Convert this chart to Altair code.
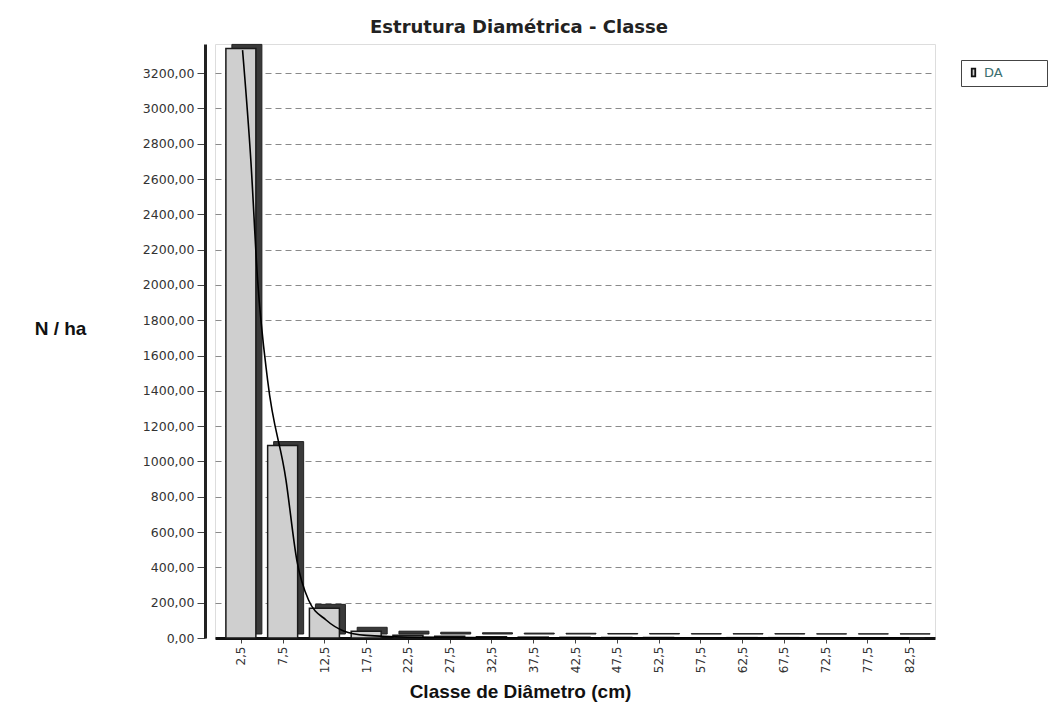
import altair as alt
import pandas as pd

# Diameter classes (cm) and stems per hectare (N/ha)
classes = [2.5, 7.5, 12.5, 17.5, 22.5, 27.5, 32.5, 37.5, 42.5, 47.5,
           52.5, 57.5, 62.5, 67.5, 72.5, 77.5, 82.5]
n_ha = [3340, 1090, 168, 38, 16, 10, 7, 5, 4, 3, 3, 2, 2, 2, 1, 1, 1]

# Fitted curve
curve_d = [2.7, 3.7, 4.5, 5.7, 7.9, 9.2, 10.6, 12.7, 14.8, 17.5, 22.5, 30.0, 45.0, 82.5]
curve_v = [3330, 2700, 2030, 1460, 895, 440, 215, 102, 40, 15, 5, 2, 1, 0.5]

y_ticks = list(range(0, 3201, 200))

bars = pd.DataFrame({"d": classes, "n": n_ha, "serie": ["DA"] * len(classes)})
curve = pd.DataFrame({"d": curve_d, "v": curve_v})

font = "Liberation Sans"
tfont = "DejaVu Sans"

xscale = alt.Scale(domain=[0, 85], nice=False, zero=False)
yscale = alt.Scale(domain=[0, 3365], nice=False)

x_axis = alt.Axis(
    values=classes,
    labelExpr="replace(format(datum.value, '.1f'), '.', ',')",
    labelAngle=270, labelAlign="right", labelBaseline="middle",
    labelFontSize=12, labelColor="#333", labelFont=tfont, labelPadding=3,
    labelOverlap=False,
    tickSize=5, tickColor="#444", grid=False,
    domainColor="#111", domainWidth=3,
    title="Classe de Diâmetro (cm)", titleFontSize=19, titleFont=font,
    titleFontWeight="bold", titleColor="#111",
    titleX=305, titleY=53, titleAnchor="middle", titleAlign="center",
    titleBaseline="middle",
)

y_axis = alt.Axis(
    values=y_ticks,
    labelExpr="replace(format(datum.value, '.2f'), '.', ',')",
    labelFontSize=12.5, labelColor="#333", labelFont=tfont, labelPadding=3,
    labelOverlap=False,
    tickSize=8, tickColor="#444", offset=10,
    grid=True, gridDash=[6, 4], gridColor="#8a8a8a", gridWidth=1,
    domainColor="#222", domainWidth=3,
    title="N / ha", titleAngle=0, titleFontSize=19, titleFont=font,
    titleFontWeight="bold", titleColor="#111",
    titleX=-145, titleY=284, titleAlign="center", titleBaseline="middle",
)

depth = alt.Chart(bars).mark_bar(
    width=30, xOffset=6, yOffset=-4, fill="#3a3a3a", stroke="#222", strokeWidth=1
).encode(
    x=alt.X("d:Q", scale=xscale, axis=x_axis),
    y=alt.Y("n:Q", scale=yscale, axis=y_axis),
)

pad = "\u2800" * 4

front = alt.Chart(bars).mark_bar(
    width=30, stroke="#1a1a1a", strokeWidth=1.5
).encode(
    x=alt.X("d:Q", scale=xscale, axis=x_axis),
    y=alt.Y("n:Q", scale=yscale, axis=y_axis),
    fill=alt.Fill(
        "serie:N",
        scale=alt.Scale(domain=["DA"], range=["#cfcfcf"]),
        legend=alt.Legend(
            title=None, orient="none", legendX=746, legendY=16,
            fillColor="white", strokeColor="#444", padding=6,
            symbolType="M-0.45,-1L0.45,-1L0.45,1L-0.45,1Z",
            symbolSize=60, symbolStrokeColor="#111", symbolStrokeWidth=1.8,
            symbolFillColor="#cfcfcf",
            labelFontSize=13, labelFont=tfont, labelColor="#3a6e6e",
            labelOffset=4,
            labelExpr="datum.label + '" + pad + "'",
        ),
    ),
)

line = alt.Chart(curve).mark_line(
    color="#000", strokeWidth=1.6, interpolate="monotone"
).encode(
    x=alt.X("d:Q", scale=xscale, axis=x_axis),
    y=alt.Y("v:Q", scale=yscale, axis=y_axis),
)

chart = (depth + front + line).properties(
    width=720, height=594,
    title=alt.TitleParams(
        "Estrutura Diamétrica - Classe", fontSize=18, font=tfont,
        fontWeight="bold", color="#222", anchor="middle", dx=-56, offset=7,
    ),
    autosize=alt.AutoSizeParams(type="none"),
    padding={"left": 215, "top": 44, "right": 121, "bottom": 77},
).configure_view(
    stroke="#555", strokeWidth=1.5
).configure(background="white")

chart.save("out.html", embed_options={"renderer": "svg", "actions": False})
